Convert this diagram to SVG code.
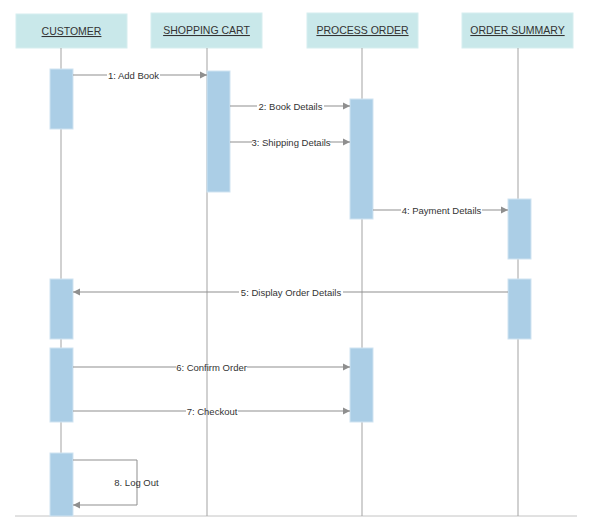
<svg xmlns="http://www.w3.org/2000/svg" width="596" height="532" viewBox="0 0 596 532">
<defs>
<style>
.hdr{fill:#c9e8ea;stroke:#d6eeef;stroke-width:1}
.htxt{font-family:"Liberation Sans",Arial,sans-serif;font-size:10.5px;fill:#333;text-anchor:middle;text-decoration:underline}
.life{stroke:#a3a3a3;stroke-width:1;fill:none}
.act{fill:#abcee6;stroke:#cfe3f1;stroke-width:1}
.msg{stroke:#8f8f8f;stroke-width:1;fill:none}
.lbl{font-family:"Liberation Sans",Arial,sans-serif;font-size:9.5px;fill:#333;text-anchor:middle}
</style>
<marker id="arr" markerWidth="8" markerHeight="8" refX="7" refY="4" orient="auto" markerUnits="userSpaceOnUse">
<path d="M0,0.5 L7,4 L0,7.5 Z" fill="#8f8f8f"/>
</marker>
</defs>
<rect width="596" height="532" fill="#ffffff"/>
<line x1="15" y1="516" x2="577" y2="516" stroke="#c4c4c4" stroke-width="1"/>

<g id="customer">
<rect class="hdr" x="16" y="14" width="111" height="34"/>
<text class="htxt" x="71.5" y="35">CUSTOMER</text>
<line class="life" x1="61" y1="48" x2="61" y2="516"/>
<rect class="act" x="50" y="69" width="23" height="60"/>
<rect class="act" x="50" y="279" width="23" height="60"/>
<rect class="act" x="50" y="348" width="23" height="74"/>
<rect class="act" x="50" y="453" width="23" height="63"/>
</g>

<g id="shopping-cart">
<rect class="hdr" x="151" y="13" width="111" height="35"/>
<text class="htxt" x="206.5" y="34">SHOPPING CART</text>
<line class="life" x1="207" y1="48" x2="207" y2="516"/>
<rect class="act" x="207" y="71" width="23" height="121"/>
</g>

<g id="process-order">
<rect class="hdr" x="307" y="13" width="111" height="35"/>
<text class="htxt" x="362.5" y="34">PROCESS ORDER</text>
<line class="life" x1="362" y1="48" x2="362" y2="516"/>
<rect class="act" x="350" y="99" width="23" height="120"/>
<rect class="act" x="350" y="348" width="23" height="74"/>
</g>

<g id="order-summary">
<rect class="hdr" x="462" y="13" width="111" height="35"/>
<text class="htxt" x="517.5" y="34">ORDER SUMMARY</text>
<line class="life" x1="518" y1="48" x2="518" y2="516"/>
<rect class="act" x="508" y="199" width="23" height="60"/>
<rect class="act" x="508" y="279" width="23" height="60"/>
</g>

<g id="connectors">
<line class="msg" x1="73" y1="75" x2="107" y2="75"/>
<line class="msg" x1="160" y1="75" x2="207" y2="75" marker-end="url(#arr)"/>
<text class="lbl" x="133.5" y="78.5">1: Add Book</text>

<line class="msg" x1="230" y1="106" x2="257" y2="106"/>
<line class="msg" x1="324" y1="106" x2="350" y2="106" marker-end="url(#arr)"/>
<text class="lbl" x="290.5" y="109.5">2: Book Details</text>

<line class="msg" x1="230" y1="142" x2="252" y2="142"/>
<line class="msg" x1="330" y1="142" x2="350" y2="142" marker-end="url(#arr)"/>
<text class="lbl" x="291" y="145.5">3: Shipping Details</text>

<line class="msg" x1="373" y1="210" x2="401" y2="210"/>
<line class="msg" x1="482" y1="210" x2="508" y2="210" marker-end="url(#arr)"/>
<text class="lbl" x="441.5" y="213.5">4: Payment Details</text>

<line class="msg" x1="508" y1="292" x2="343" y2="292"/>
<line class="msg" x1="239" y1="292" x2="73" y2="292" marker-end="url(#arr)"/>
<text class="lbl" x="291" y="295.5">5: Display Order Details</text>

<line class="msg" x1="73" y1="367" x2="176" y2="367"/>
<line class="msg" x1="247" y1="367" x2="350" y2="367" marker-end="url(#arr)"/>
<text class="lbl" x="211.5" y="370.5">6: Confirm Order</text>

<line class="msg" x1="73" y1="411" x2="186" y2="411"/>
<line class="msg" x1="238" y1="411" x2="350" y2="411" marker-end="url(#arr)"/>
<text class="lbl" x="212" y="414.5">7: Checkout</text>

<polyline class="msg" points="73,460 137,460 137,505 73,505" marker-end="url(#arr)"/>
<text class="lbl" x="136.5" y="486">8. Log Out</text>
</g>
</svg>
